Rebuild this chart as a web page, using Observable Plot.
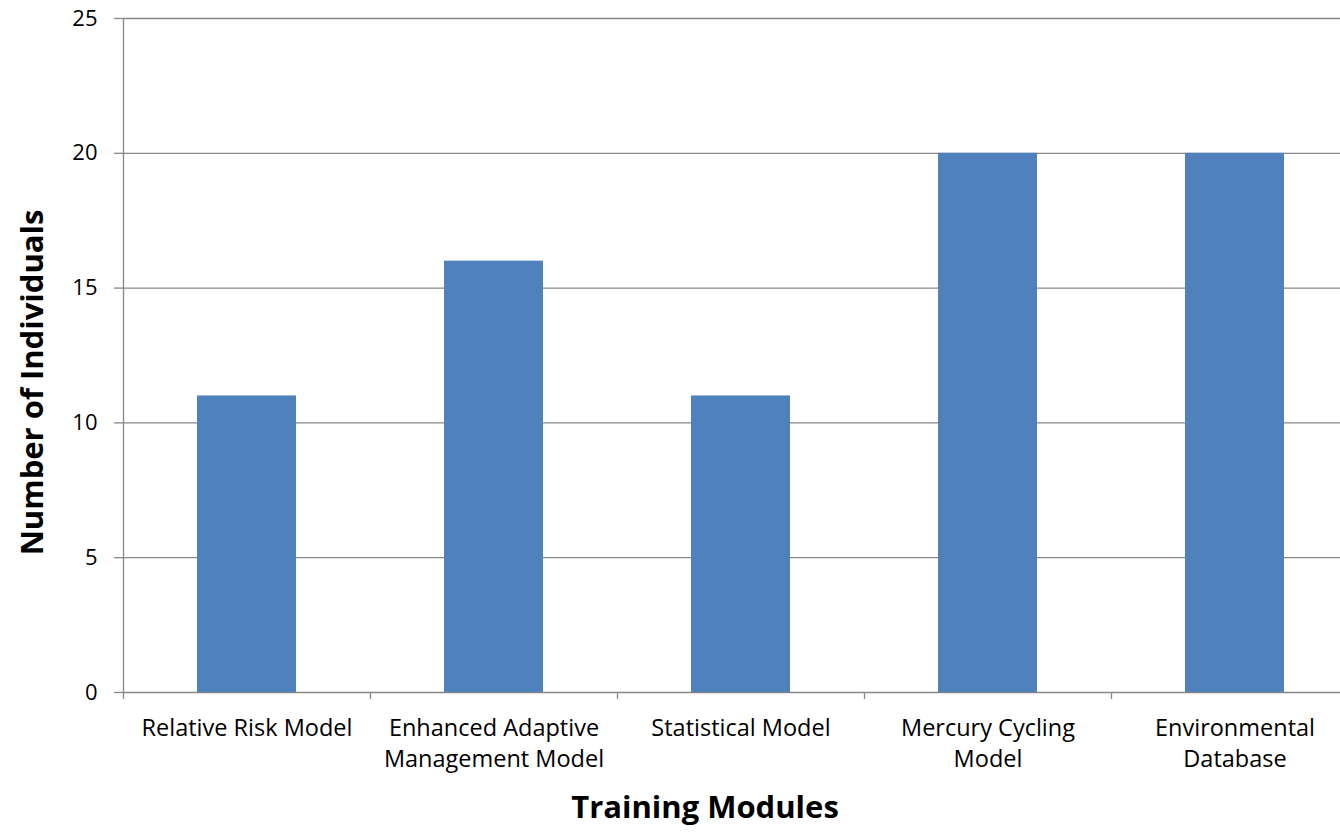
<!DOCTYPE html>
<html>
<head>
<meta charset="utf-8">
<script src="https://cdn.jsdelivr.net/npm/d3@7"></script>
<script src="https://cdn.jsdelivr.net/npm/@observablehq/plot@0.6"></script>
<style>
  html, body { margin: 0; padding: 0; background: #fff; overflow: hidden; }
  #chart svg { display: block; }
</style>
</head>
<body>
<div id="chart"></div>
<script>
const categories = ["Relative Risk Model", "Enhanced Adaptive Management Model", "Statistical Model", "Mercury Cycling Model", "Environmental Database"];
const tickLabels = ["Relative Risk Model", "Enhanced Adaptive\nManagement Model", "Statistical Model", "Mercury Cycling\nModel", "Environmental\nDatabase"];
const values = [11, 16, 11, 20, 20];
const yTicks = [0, 5, 10, 15, 20, 25];
const xTitle = "Training Modules";
const yTitle = "Number of Individuals";

const data = categories.map((c, i) => ({category: c, label: tickLabels[i], value: values[i]}));

const W = 1340, H = 834;
const mL = 123, mT = 18, mB = 142;
const rangeRight = 1358;
const step = (rangeRight - mL) / (categories.length - 0.6 + 0.6);
const gray = "#878787";
const font = "'Open Sans', Lato, sans-serif";

const chart = Plot.plot({
  width: W,
  height: H,
  marginLeft: mL,
  marginRight: 0,
  marginTop: mT,
  marginBottom: mB,
  style: {fontFamily: font, background: "#fff", overflow: "visible"},
  x: {type: "band", domain: categories, range: [mL, rangeRight], paddingInner: 0.6, paddingOuter: 0.3, axis: null},
  y: {domain: [0, 25], axis: null},
  marks: [
    Plot.ruleY(yTicks, {stroke: gray, strokeWidth: 1.3}),
    Plot.barY(data, {x: "category", y: "value", fill: "#4F81BD"}),
    Plot.ruleX(categories, {x: d => d, y1: 0, y2: 0, insetBottom: -7, dx: -step / 2, stroke: gray, strokeWidth: 1.3}),
    Plot.ruleX([categories[0]], {x: d => d, y1: 0, y2: 25, dx: -step / 2, stroke: gray, strokeWidth: 1.3}),
    Plot.axisY(yTicks, {tickSize: 9, tickPadding: 17, fontSize: 22, stroke: gray, fill: "#000", label: null, strokeWidth: 1.3}),
    Plot.text(data, {x: "category", y: 0, text: "label", dy: 21, lineAnchor: "top", lineHeight: 1.32, fontSize: 23.5, fill: "#000"}),
    Plot.text([xTitle], {frameAnchor: "bottom", textAnchor: "middle", dy: 125, dx: -27, fontSize: 31, fontWeight: "bold", fill: "#000"}),
    Plot.text([yTitle], {frameAnchor: "left", textAnchor: "middle", dx: -90, dy: 27, rotate: -90, fontSize: 31, fontWeight: "bold", fill: "#000"})
  ]
});
document.getElementById("chart").appendChild(chart);
</script>
</body>
</html>
